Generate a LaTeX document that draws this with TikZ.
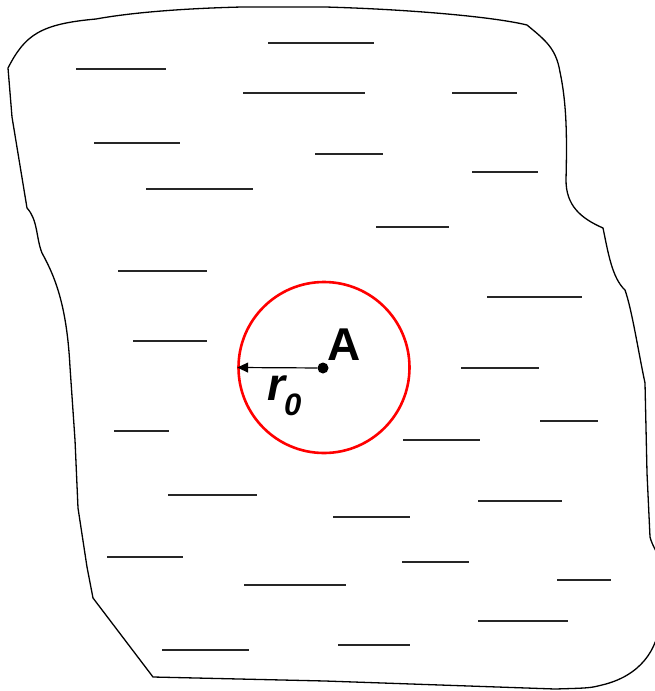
\documentclass[tikz,border=0pt]{standalone}
\usepackage{fontspec}
\newfontfamily\lsans{Liberation Sans}
\usetikzlibrary{arrows.meta}
\tikzset{
  outline/.style={draw=black, line width=1.3pt, line join=round},
  hatch/.style={draw=black!85, line width=1.4pt},
  ring/.style={circle, draw=red, line width=2.6pt, minimum size=171pt, inner sep=0pt},
  pointdot/.style={circle, fill=black, inner sep=0pt, minimum size=11pt},
  radius arrow/.style={draw=black, line width=1.2pt, -{Triangle[length=11pt,width=10pt]}},
  lbl/.style={anchor=base west, inner sep=0pt, font=\lsans\bfseries}
}
\begin{document}
\begin{tikzpicture}[x=1pt, y=-1pt]
\useasboundingbox (0,0) rectangle (655,691);
\clip (0,0) rectangle (655,691);
% irregular outline
\draw[outline] (8,68) .. controls (25,35) and (40,24) .. (96,19)
  .. controls (140,11) and (200,8) .. (242,7) -- (325,7)
  .. controls (400,9) and (490,16) .. (527,25)
  .. controls (545,40) and (556,48) .. (560,72)
  .. controls (567,105) and (567,140) .. (566,180)
  .. controls (566,205) and (580,218) .. (603,228)
  .. controls (608,252) and (612,278) .. (625,290)
  .. controls (632,310) and (638,350) .. (645,383)
  -- (647,473) -- (650,537)
  .. controls (652,545) and (657,552) .. (660,560) -- (660,620)
  .. controls (658,650) and (640,676) .. (602,685)
  .. controls (590,688) .. (555,689)
  -- (325,681) -- (153,677) -- (93,598) -- (87,567) -- (78,508)
  -- (75,440) -- (70,367)
  .. controls (67,310) and (57,280) .. (42,253)
  .. controls (36,238) and (38,220) .. (27,208)
  -- (12,117) -- cycle;
% hatch marks
\foreach \xa/\xb/\yy in {268/374/43, 76/166/69, 243/365/93, 452/517/93,
  94/180/143, 315/383/154, 472/538/172, 146/253/189, 376/449/227,
  118/207/271, 487/582/297, 133/207/341, 461/539/368, 114/169/431,
  540/598/421, 403/480/440, 168/257/495, 478/562/501, 333/410/517,
  107/183/557, 402/469/562, 244/346/585, 557/611/580, 478/568/621,
  162/249/650, 338/410/645}
  \draw[hatch] (\xa,\yy) -- (\xb,\yy);
% circle, point and radius
\node[ring, fill=none] (C) at (324,367.5) {};
\node[pointdot] (A) at (323,368) {};
\draw[radius arrow] (A) -- (C.west);
\node[lbl, font=\lsans\bfseries\fontsize{46}{46}\selectfont] (labelA) at (327,360) {A};
\node[lbl, font=\lsans\bfseries\itshape\fontsize{46}{46}\selectfont] (labelr) at (267,400)
  {r\kern-1pt\raisebox{-15pt}{\fontsize{31}{31}\selectfont 0}};
\end{tikzpicture}
\end{document}
